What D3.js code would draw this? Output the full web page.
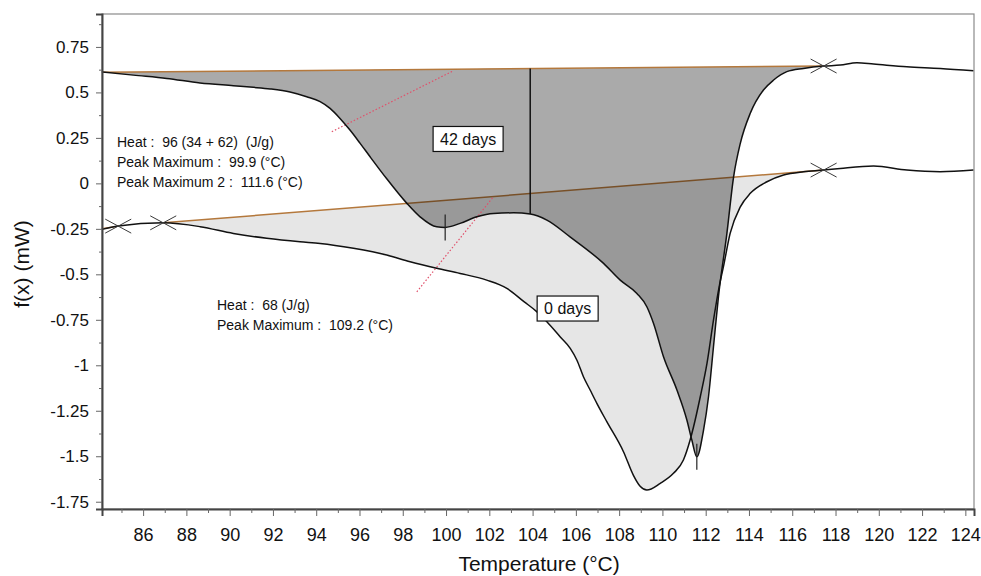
<!DOCTYPE html>
<html>
<head>
<meta charset="utf-8">
<script src="https://cdn.jsdelivr.net/npm/d3@7"></script>
<style>
  body { margin: 0; background: #fff; }
  svg text { font-family: "Liberation Sans", Arial, sans-serif; }
</style>
</head>
<body>
<svg id="chart"></svg>
<script>
// 42 days sample (upper curve)
const temp42 = [84.09, 85.55, 87.09, 88.63, 90.17, 91.09, 91.87, 92.79, 93.56, 94.18, 94.64, 95.10,
  95.56, 96.03, 96.49, 96.95, 97.26, 98.19, 98.80, 99.57, 99.96, 100.65, 101.42, 102.19, 103.12,
  103.89, 104.66, 105.73, 107.28, 108.05, 108.82, 109.28, 109.59, 110.05, 110.67, 111.13, 111.36,
  111.59, 111.90, 112.13, 112.36, 112.59, 112.98, 113.29, 113.60, 114.06, 114.67, 115.14, 115.75,
  116.52, 117.45, 118.22, 118.99, 119.76, 121.30, 122.84, 124.38];
const heat42 = [0.613, 0.595, 0.577, 0.552, 0.537, 0.528, 0.519, 0.502, 0.476, 0.449, 0.412, 0.357,
  0.293, 0.220, 0.146, 0.073, 0.025, -0.110, -0.184, -0.239, -0.242, -0.220, -0.184, -0.165, -0.162,
  -0.169, -0.202, -0.294, -0.440, -0.532, -0.605, -0.678, -0.770, -0.953, -1.136, -1.301, -1.411,
  -1.503, -1.356, -1.173, -0.898, -0.623, -0.275, 0.036, 0.220, 0.385, 0.513, 0.568, 0.614,
  0.632, 0.645, 0.650, 0.663, 0.656, 0.641, 0.632, 0.619];

// 0 days sample (lower curve)
const temp0 = [84.09, 84.85, 86.93, 88.63, 90.17, 91.71, 93.25, 94.18, 95.72, 97.26, 98.34, 99.57,
  100.65, 101.88, 102.81, 103.60, 104.19, 104.66, 105.27, 105.74, 106.05, 106.35, 106.66, 106.97,
  107.43, 108.20, 108.66, 108.97, 109.28, 109.90, 110.51, 110.97, 111.28, 111.44, 111.75, 112.06,
  112.36, 112.62, 112.82, 113.13, 113.60, 114.06, 114.83, 115.60, 116.52, 117.45, 118.22, 119.76,
  121.30, 122.84, 124.38];
const heat0 = [-0.253, -0.235, -0.217, -0.238, -0.275, -0.302, -0.321, -0.330, -0.357, -0.394, -0.431, -0.467,
  -0.495, -0.532, -0.577, -0.650, -0.705, -0.761, -0.843, -0.907, -0.972, -1.063, -1.136, -1.209,
  -1.310, -1.475, -1.605, -1.665, -1.686, -1.649, -1.594, -1.521, -1.411, -1.338, -1.173, -0.990,
  -0.752, -0.570, -0.458, -0.275, -0.129, -0.055, 0.009, 0.046, 0.064, 0.073, 0.082, 0.095,
  0.073, 0.064, 0.073];

// integration baselines
const base42T = [84.1, 117.45];
const base42F = [0.611, 0.645];
const base0T = [86.93, 117.45];
const base0F = [-0.217, 0.073];
const stubT = [84.1, 84.85];
const stubF = [-0.249, -0.235];

// partial area split (34 + 62)
const splitT = [103.89];

// onset tangents
const tanAT = [94.72, 100.34];
const tanAF = [0.284, 0.619];
const tanBT = [98.65, 102.19];
const tanBF = [-0.596, -0.074];

// limit markers and peak markers
const crossT = [84.85, 86.93, 117.45, 117.45];
const crossF = [-0.235, -0.217, 0.645, 0.073];
const peakT = [99.96, 111.59];
const peakF = [-0.242, -1.503];

// ticks
const xTicks = [86, 88, 90, 92, 94, 96, 98, 100, 102, 104, 106, 108, 110, 112, 114, 116, 118, 120, 122, 124];
const xMinor = [85, 87, 89, 91, 93, 95, 97, 99, 101, 103, 105, 107, 109, 111, 113, 115, 117, 119, 121, 123];
const yTicks = [0.75, 0.5, 0.25, 0, -0.25, -0.5, -0.75, -1, -1.25, -1.5, -1.75];
const yMinor = [0.875, 0.625, 0.375, 0.125, -0.125, -0.375, -0.625, -0.875, -1.125, -1.375, -1.625];

const heat42Lines = ["Heat :  96 (34 + 62)  (J/g)", "Peak Maximum :  99.9 (\u00B0C)", "Peak Maximum 2 :  111.6 (\u00B0C)"];
const heat0Lines = ["Heat :  68 (J/g)", "Peak Maximum :  109.2 (\u00B0C)"];

const W = 981, H = 576;
const margin = {top: 14, right: 7, bottom: 67, left: 102};
const iw = W - margin.left - margin.right;
const ih = H - margin.top - margin.bottom;

const svg = d3.select('#chart').attr('width', W).attr('height', H);
const g = svg.append('g').attr('transform', `translate(${margin.left},${margin.top})`);

const x = d3.scaleLinear().domain([84.1, 124.4]).range([0, iw]);
const y = d3.scaleLinear().domain([-1.79, 0.931]).range([ih, 0]);

const brown = '#b4783c';

//Zip arrays into point lists
const pts42 = temp42.map((t, i) => ({t: t, f: heat42[i]}));
const pts0 = temp0.map((t, i) => ({t: t, f: heat0[i]}));
const b42 = d3.scaleLinear().domain(base42T).range(base42F);
const b0 = d3.scaleLinear().domain(base0T).range(base0F);

const line = d3.line().x(d => x(d.t)).y(d => y(d.f)).curve(d3.curveMonotoneX);

//0 days area
const area0 = d3.area().curve(d3.curveMonotoneX)
  .x(d => x(d.t)).y0(d => y(b0(d.t))).y1(d => y(d.f));
g.append('path')
  .datum(pts0.filter(d => d.t >= base0T[0] && d.t <= base0T[1]))
  .attr('d', area0).attr('fill', '#e6e6e6');

//0 days baseline
g.append('line')
  .attr('x1', x(base0T[0])).attr('y1', y(base0F[0]))
  .attr('x2', x(base0T[1])).attr('y2', y(base0F[1]))
  .attr('stroke', brown).attr('stroke-width', 1.5);
g.append('line')
  .attr('x1', x(stubT[0])).attr('y1', y(stubF[0]))
  .attr('x2', x(stubT[1])).attr('y2', y(stubF[1]))
  .attr('stroke', brown).attr('stroke-width', 1.5);

//42 days area (translucent, darkens where overlapping)
const area42 = d3.area().curve(d3.curveMonotoneX)
  .x(d => x(d.t)).y0(d => y(b42(d.t))).y1(d => y(d.f));
g.append('path')
  .datum(pts42.filter(d => d.t <= base42T[1]))
  .attr('d', area42).attr('fill', '#000').attr('fill-opacity', 0.335);

g.append('line')
  .attr('x1', x(base42T[0])).attr('y1', y(base42F[0]))
  .attr('x2', x(base42T[1])).attr('y2', y(base42F[1]))
  .attr('stroke', brown).attr('stroke-width', 1.5);

//tangents
[[tanAT, tanAF], [tanBT, tanBF]].forEach(([tt, ff]) => {
  g.append('line')
    .attr('x1', x(tt[0])).attr('y1', y(ff[0]))
    .attr('x2', x(tt[1])).attr('y2', y(ff[1]))
    .attr('stroke', '#e0506a').attr('stroke-width', 1.2)
    .attr('stroke-dasharray', '1.5,2');
});

//curves
g.append('path').datum(pts0).attr('d', line)
  .attr('fill', 'none').attr('stroke', '#111').attr('stroke-width', 1.5);
g.append('path').datum(pts42).attr('d', line)
  .attr('fill', 'none').attr('stroke', '#111').attr('stroke-width', 1.5);

//split line
const i42 = temp42.indexOf(splitT[0]);
g.append('line')
  .attr('x1', x(splitT[0])).attr('y1', y(b42(splitT[0])))
  .attr('x2', x(splitT[0])).attr('y2', y(heat42[i42]))
  .attr('stroke', '#111').attr('stroke-width', 1.5);

//limit crosses
crossT.forEach((t, i) => {
  const cx = x(t), cy = y(crossF[i]);
  g.append('path')
    .attr('d', `M${cx - 13},${cy - 7}L${cx + 13},${cy + 7}M${cx - 13},${cy + 7}L${cx + 13},${cy - 7}`)
    .attr('stroke', '#3a3a3a').attr('stroke-width', 1).attr('fill', 'none');
});

//peak markers
peakT.forEach((t, i) => {
  const px = x(t), py = y(peakF[i]);
  g.append('line')
    .attr('x1', px).attr('x2', px).attr('y1', py - 13).attr('y2', py + 13)
    .attr('stroke', '#222').attr('stroke-width', 1.2);
});

//result texts
heat42Lines.forEach((s, i) => {
  g.append('text')
    .attr('x', 15).attr('y', 133 + i * 20)
    .style('white-space', 'pre')
    .style('font-size', '14px')
    .attr('fill', '#111')
    .text(s);
});
heat0Lines.forEach((s, i) => {
  g.append('text')
    .attr('x', 115).attr('y', 296 + i * 20)
    .style('white-space', 'pre')
    .style('font-size', '14px')
    .attr('fill', '#111')
    .text(s);
});

//sample labels in boxes
function tag(label, cx, cy, w) {
  const tg = g.append('g').attr('transform', `translate(${cx},${cy})`);
  tg.append('rect').attr('x', -w / 2).attr('y', -12.5).attr('width', w).attr('height', 25)
    .attr('fill', '#fff').attr('stroke', '#111').attr('stroke-width', 1.2);
  tg.append('text').attr('text-anchor', 'middle').attr('dy', '0.36em')
    .style('font-size', '16px').attr('fill', '#111').text(label);
}
tag('42 days', x(101.02), y(0.244), 70);
tag('0 days', x(105.62), y(-0.688), 61);

//frame
g.append('rect').attr('width', iw).attr('height', ih)
  .attr('fill', 'none').attr('stroke', '#8a8a8a').attr('stroke-width', 1.2);

//axes
const xAxis = g.append('g').attr('transform', `translate(0,${ih})`)
  .call(d3.axisBottom(x).tickValues(xTicks).tickSize(7).tickPadding(12).tickFormat(d => String(d)));
g.append('g').attr('transform', `translate(0,${ih})`)
  .call(d3.axisBottom(x).tickValues(xMinor).tickSize(4).tickFormat(''))
  .call(a => a.select('.domain').remove());
const yAxis = g.append('g')
  .call(d3.axisLeft(y).tickValues(yTicks).tickSize(6).tickPadding(7).tickFormat(d => String(d)));
g.append('g')
  .call(d3.axisLeft(y).tickValues(yMinor).tickSize(3).tickFormat(''))
  .call(a => a.select('.domain').remove());

svg.selectAll('.tick line').attr('stroke', '#666');
svg.selectAll('.domain').attr('stroke', '#444').attr('stroke-width', 2);
xAxis.selectAll('text').style('font-size', '18px').attr('fill', '#111')
  .style('font-family', '"Liberation Sans", Arial, sans-serif');
yAxis.selectAll('text').style('font-size', '17px').attr('fill', '#111')
  .style('font-family', '"Liberation Sans", Arial, sans-serif');

//axis titles
svg.append('text')
  .attr('x', margin.left + x(104.3)).attr('y', 571)
  .attr('text-anchor', 'middle').style('font-size', '21px').attr('fill', '#111')
  .text('Temperature (\u00B0C)');
svg.append('text')
  .attr('transform', 'translate(29,264) rotate(-90)')
  .attr('text-anchor', 'middle').style('font-size', '21px').attr('fill', '#111')
  .text('f(x) (mW)');
</script>
</body>
</html>
